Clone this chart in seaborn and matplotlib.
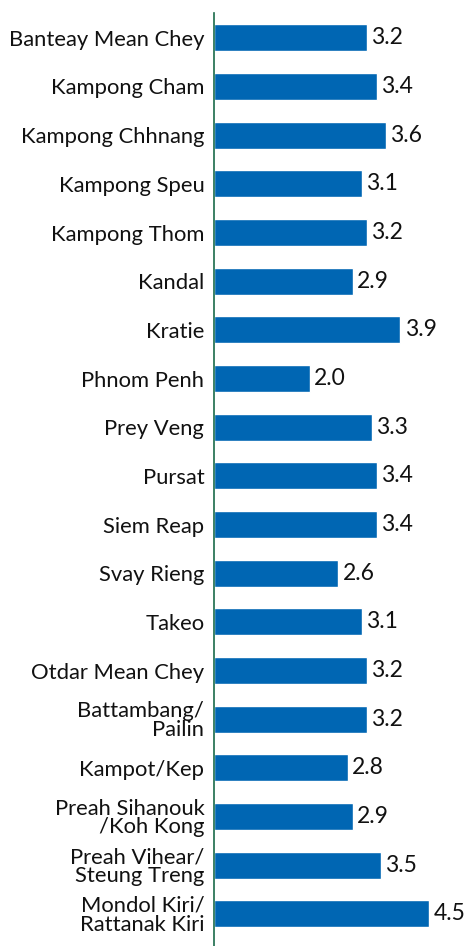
import matplotlib
matplotlib.use("Agg")
import matplotlib.pyplot as plt
import pandas as pd
import seaborn as sns

# provinces and values
provinces = [
    "Banteay Mean Chey", "Kampong Cham", "Kampong Chhnang", "Kampong Speu",
    "Kampong Thom", "Kandal", "Kratie", "Phnom Penh", "Prey Veng", "Pursat",
    "Siem Reap", "Svay Rieng", "Takeo", "Otdar Mean Chey",
    "Battambang/\nPailin", "Kampot/Kep", "Preah Sihanouk\n/Koh Kong",
    "Preah Vihear/\nSteung Treng", "Mondol Kiri/\nRattanak Kiri",
]
values = [3.2, 3.4, 3.6, 3.1, 3.2, 2.9, 3.9, 2.0, 3.3, 3.4,
          3.4, 2.6, 3.1, 3.2, 3.2, 2.8, 2.9, 3.5, 4.5]

df = pd.DataFrame({"province": provinces, "value": values})

sns.set_style("white")
plt.rcParams["font.family"] = ["Lato", "DejaVu Sans"]

fig = plt.figure(figsize=(4.65, 9.46), dpi=100)
ax = fig.add_axes([214 / 465, 0, 1 - 214 / 465, 1 - 13 / 946])

sns.barplot(data=df, x="value", y="province", orient="h", color="#0066b3",
            width=0.55, saturation=1, ax=ax)

ax.bar_label(ax.containers[0], fmt="%.1f", padding=3, fontsize=16.5,
             color="#111111")

ax.set_xlim(0, 5.25)
ax.set_ylim(18.66, -0.51)
ax.set_xlabel("")
ax.set_ylabel("")
ax.set_xticks([])
ax.tick_params(axis="y", length=0, pad=7, labelsize=15.8, labelcolor="#111111")
for lbl in ax.get_yticklabels():
    lbl.set_linespacing(0.92)
for s in ["top", "right", "bottom"]:
    ax.spines[s].set_visible(False)
ax.spines["left"].set_color("#1a6b4a")
ax.spines["left"].set_linewidth(1.2)

fig.savefig("out.png", dpi=100)
